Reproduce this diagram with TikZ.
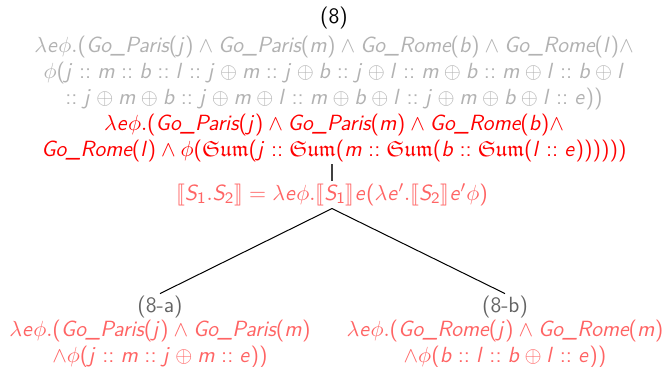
\documentclass[tikz,border=0pt]{standalone}
\usepackage{amssymb}
\usepackage{stmaryrd}
\renewcommand{\familydefault}{\sfdefault}
\DeclareSymbolFont{operators}{OT1}{cmss}{m}{n}
\DeclareSymbolFont{sfit}{OT1}{cmss}{m}{sl}
\DeclareMathSymbol{b}{\mathalpha}{sfit}{`b}
\DeclareMathSymbol{e}{\mathalpha}{sfit}{`e}
\DeclareMathSymbol{j}{\mathalpha}{sfit}{`j}
\DeclareMathSymbol{l}{\mathalpha}{sfit}{`l}
\DeclareMathSymbol{m}{\mathalpha}{sfit}{`m}
\DeclareMathSymbol{S}{\mathalpha}{sfit}{`S}
\newcommand{\gop}{\textit{Go\_Paris}}
\newcommand{\gor}{\textit{Go\_Rome}}
\newcommand{\smsum}{\mathfrak{Sum}}
\definecolor{grtxt}{RGB}{178,178,178}
\definecolor{pinkred}{RGB}{255,100,100}
\definecolor{lbl}{RGB}{100,100,100}
\tikzset{
  txt/.style={inner sep=1pt, align=center, font=\fontsize{11}{12.9}\selectfont},
  edgeline/.style={draw=black, line width=0.5pt},
  stemline/.style={draw=black!75, line width=0.6pt}
}
\begin{document}
\begin{tikzpicture}[x=0.5pt,y=-0.5pt]
\fill[white] (0,0) rectangle (668,367);
\useasboundingbox (0,0) rectangle (668,367);
\node[txt, text=black] (n8) at (334,18) {(8)};
\node[txt, text=grtxt] (gr) at (334,73) {$\lambda e\phi.(\gop(j)\wedge\gop(m)\wedge\gor(b)\wedge\gor(l)\wedge$\\
$\phi(j::m::b::l::j\oplus m::j\oplus b::j\oplus l::m\oplus b::m\oplus l::b\oplus l$\\
$::j\oplus m\oplus b::j\oplus m\oplus l::m\oplus b\oplus l::j\oplus m\oplus b\oplus l::e))$};
\node[txt, text=red] (rd) at (334,138) {$\lambda e\phi.(\gop(j)\wedge\gop(m)\wedge\gor(b)\wedge$\\
$\gor(l)\wedge\phi(\smsum(j::\smsum(m::\smsum(b::\smsum(l::e))))))$};
\node[txt, text=pinkred] (sem) at (332,195) {$\llbracket S_1.S_2\rrbracket=\lambda e\phi.\llbracket S_1\rrbracket e(\lambda e'.\llbracket S_2\rrbracket e'\phi)$};
\node[txt, text=lbl] (a) at (160,307) {(8-a)};
\node[txt, text=pinkred] (af) at (160,344) {$\lambda e\phi.(\gop(j)\wedge\gop(m)$\\ $\wedge\phi(j::m::j\oplus m::e))$};
\node[txt, text=lbl] (b) at (505,307) {(8-b)};
\node[txt, text=pinkred] (bf) at (505,344) {$\lambda e\phi.(\gor(j)\wedge\gor(m)$\\ $\wedge\phi(b::l::b\oplus l::e))$};
\draw[stemline] (rd.south -| sem.north) -- (sem.north);
\draw[edgeline] (sem.south) -- (a.north);
\draw[edgeline] (sem.south) -- (b.north);
\end{tikzpicture}
\end{document}
